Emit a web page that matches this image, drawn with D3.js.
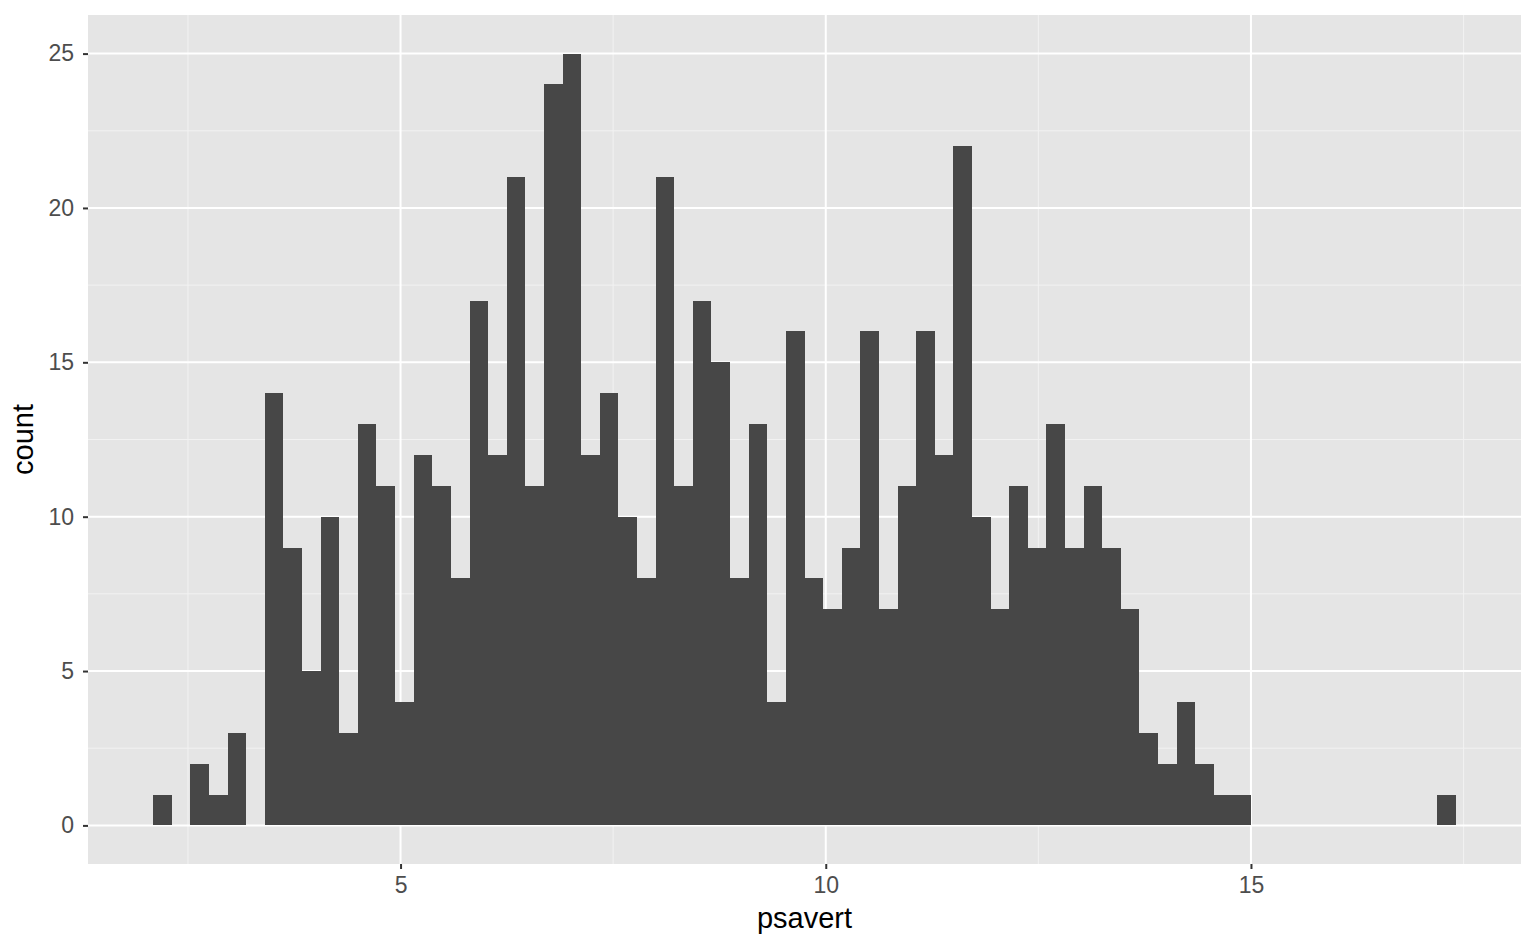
<!DOCTYPE html>
<html><head><meta charset="utf-8">
<script src="https://cdn.jsdelivr.net/npm/d3@7"></script>
<style>body{margin:0;background:#fff;}svg{display:block;font-family:"Liberation Sans",Arial,sans-serif;}</style>
</head><body><svg id="c" width="1536" height="949"></svg>
<script>
// bins=70 histogram of psavert; bin centres start at 2.2, width 15.1/69
const binStart = 2.2;
const binWidth = 15.1 / 69;
const counts = [1,0,2,1,3,0,14,9,5,10,3,13,11,4,12,11,8,17,12,21,11,24,25,12,14,10,8,21,11,17,15,8,13,4,16,8,7,9,16,7,11,16,12,22,10,7,11,9,13,9,11,9,7,3,2,4,2,1,1,0,0,0,0,0,0,0,0,0,0,1];
const xTicks = [5,10,15];
const xMinor = [2.5,7.5,12.5,17.5];
const yTicks = [0,5,10,15,20,25];
const yMinor = [2.5,7.5,12.5,17.5,22.5];

const bins = counts.map((c,i)=>({x0: binStart + (i-0.5)*binWidth, x1: binStart + (i+0.5)*binWidth, n: c}));

const L=88, R=1521, T=15, B=864;
const xlo = bins[0].x0, xhi = bins[bins.length-1].x1, xe = (xhi-xlo)*0.05;
const x = d3.scaleLinear().domain([xlo-xe, xhi+xe]).range([L,R]);
const y = d3.scaleLinear().domain([-1.25, 26.25]).range([B,T]);

const svg = d3.select("#c");
svg.append("rect").attr("x",L).attr("y",T).attr("width",R-L).attr("height",B-T).attr("fill","#E5E5E5");
const g = svg.append("g");
g.selectAll(".xm").data(xMinor).join("line").attr("x1",d=>x(d)).attr("x2",d=>x(d)).attr("y1",T).attr("y2",B).attr("stroke","#F2F2F2").attr("stroke-width",1);
g.selectAll(".ym").data(yMinor).join("line").attr("y1",d=>y(d)).attr("y2",d=>y(d)).attr("x1",L).attr("x2",R).attr("stroke","#F2F2F2").attr("stroke-width",1);
g.selectAll(".xM").data(xTicks).join("line").attr("x1",d=>x(d)).attr("x2",d=>x(d)).attr("y1",T).attr("y2",B).attr("stroke","#fff").attr("stroke-width",2);
g.selectAll(".yM").data(yTicks).join("line").attr("y1",d=>y(d)).attr("y2",d=>y(d)).attr("x1",L).attr("x2",R).attr("stroke","#fff").attr("stroke-width",2);

svg.append("g").attr("shape-rendering","crispEdges").selectAll("rect").data(bins.filter(b=>b.n>0)).join("rect")
  .attr("x",d=>x(d.x0)).attr("width",d=>x(d.x1)-x(d.x0))
  .attr("y",d=>y(d.n)).attr("height",d=>y(0)-y(d.n)).attr("fill","#474747");

// axes
const xa = svg.append("g").attr("transform",`translate(0,${B})`).call(d3.axisBottom(x).tickValues(xTicks).tickSize(5).tickPadding(8).tickFormat(d3.format("d")));
const ya = svg.append("g").attr("transform",`translate(${L},0)`).call(d3.axisLeft(y).tickValues(yTicks).tickSize(5).tickPadding(9).tickFormat(d3.format("d")));
[xa,ya].forEach(a=>{a.select(".domain").remove();a.selectAll("line").attr("stroke","#333").attr("stroke-width",2);a.selectAll("text").attr("fill","#4D4D4D").attr("font-size","23px").attr("font-family","Liberation Sans, Arial, sans-serif");});
xa.selectAll("text").attr("dy","0.71em");

svg.append("text").attr("x",(L+R)/2).attr("y",928).attr("text-anchor","middle").attr("font-size","29px").attr("fill","#000").text("psavert");
svg.append("text").attr("transform",`translate(33,${(T+B)/2}) rotate(-90)`).attr("text-anchor","middle").attr("font-size","29px").attr("fill","#000").text("count");
</script></body></html>
